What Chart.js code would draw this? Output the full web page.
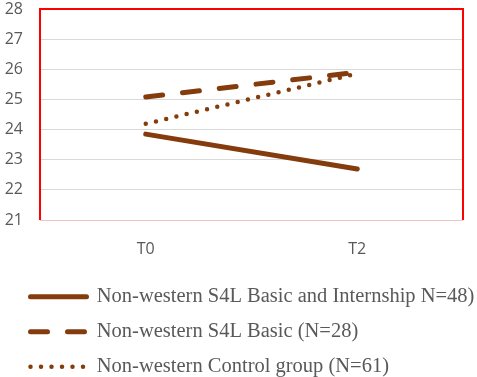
<!DOCTYPE html>
<html lang="en">
<head>
   <meta charset="UTF-8">
   <title>S4L scores</title>
   <script src="https://cdn.jsdelivr.net/npm/chart.js"></script>
   <style>
       html, body { margin: 0; padding: 0; background: #fff; }
       .wrap { width: 477px; height: 377px; }
   </style>
</head>
<body>
   <div class="wrap"><canvas id="scoreChart"></canvas></div>

   <script>
       const timePoints = ['T0', 'T2'];
       const seriesNames = [
           'Non-western S4L Basic and Internship N=48)',
           'Non-western S4L Basic (N=28)',
           'Non-western Control group (N=61)'
       ];
       const internshipScores = [23.85, 22.69];
       const basicScores = [25.08, 25.9];
       const controlScores = [24.19, 25.86];
       const yTicks = [21, 22, 23, 24, 25, 26, 27, 28];

       const brown = '#843c0c';
       const grey = '#595959';

       // red frame round the plot area
       const plotFrame = {
           id: 'plotFrame',
           afterDatasetsDraw(chart) {
               const a = chart.chartArea;
               const ctx = chart.ctx;
               ctx.save();
               ctx.lineWidth = 1;
               ctx.strokeStyle = '#f2c4c6';
               ctx.beginPath();
               ctx.moveTo(a.left, a.bottom + 0.5);
               ctx.lineTo(a.right, a.bottom + 0.5);
               ctx.stroke();
               ctx.lineWidth = 2;
               ctx.strokeStyle = '#ff0000';
               ctx.beginPath();
               ctx.moveTo(a.left, a.bottom);
               ctx.lineTo(a.left, a.top);
               ctx.lineTo(a.right, a.top);
               ctx.lineTo(a.right, a.bottom);
               ctx.stroke();
               ctx.restore();
           }
       };

       // move the legend a little right and down (legend clips to its own box)
       const legendShift = {
           id: 'legendShift',
           afterLayout(chart) {
               const lg = chart.legend;
               lg.left += 12;
               lg.top += 10;
               lg.right = chart.width;
               lg.bottom = chart.height;
           }
       };

       new Chart(document.getElementById('scoreChart'), {
           type: 'line',
           data: {
               labels: timePoints,
               datasets: [{
                   label: seriesNames[0], data: internshipScores, borderColor: brown,
                   borderWidth: 5, borderCapStyle: 'round', borderDash: [], pointRadius: 0
               }, {
                   label: seriesNames[1], data: basicScores, borderColor: brown,
                   borderWidth: 5, borderCapStyle: 'round', borderDash: [17, 20], pointRadius: 0
               }, {
                   label: seriesNames[2], data: controlScores, borderColor: brown,
                   borderWidth: 4.5, borderCapStyle: 'round', borderDash: [0, 10.5], pointRadius: 0
               }]
           },
           options: {
               responsive: true,
               maintainAspectRatio: false,
               animation: false,
               layout: { padding: { left: 4, right: 14, top: 9, bottom: 0 } },
               plugins: {
                   tooltip: { enabled: false },
                   legend: {
                       position: 'bottom',
                       align: 'start',
                       labels: {
                           usePointStyle: true,
                           pointStyleWidth: 56,
                           padding: 14.5,
                           color: grey,
                           font: { family: '"Liberation Serif", serif', size: 20.5 },
                           generateLabels: function(chart) {
                               return chart.data.datasets.map(function(ds, i) {
                                   return {
                                       text: ds.label,
                                       fillStyle: ds.borderColor,
                                       strokeStyle: ds.borderColor,
                                       lineWidth: ds.borderWidth,
                                       lineDash: ds.borderDash,
                                       lineCap: ds.borderCapStyle,
                                       pointStyle: 'line',
                                       fontColor: grey,
                                       hidden: false,
                                       datasetIndex: i
                                   };
                               });
                           }
                       }
                   }
               },
               scales: {
                   x: {
                       offset: true,
                       grid: { display: false, drawTicks: false },
                       border: { display: false },
                       ticks: { color: grey, padding: 20, font: { family: '"Open Sans", sans-serif', size: 16 } },
                       afterFit: function(axis) {
                           axis.height = 42;
                           axis.paddingLeft = 0;
                           axis.paddingRight = 0;
                       }
                   },
                   y: {
                       min: yTicks[0],
                       max: yTicks[yTicks.length - 1],
                       grid: { color: '#d9d9d9', lineWidth: 1, drawTicks: false },
                       border: { display: false },
                       ticks: { color: grey, padding: 17, stepSize: 1, font: { family: '"Open Sans", sans-serif', size: 16 } },
                       afterFit: function(axis) {
                           axis.width = 36;
                           axis.paddingTop = 0;
                           axis.paddingBottom = 0;
                       }
                   }
               }
           },
           plugins: [plotFrame, legendShift]
       });
   </script>
</body>
</html>
